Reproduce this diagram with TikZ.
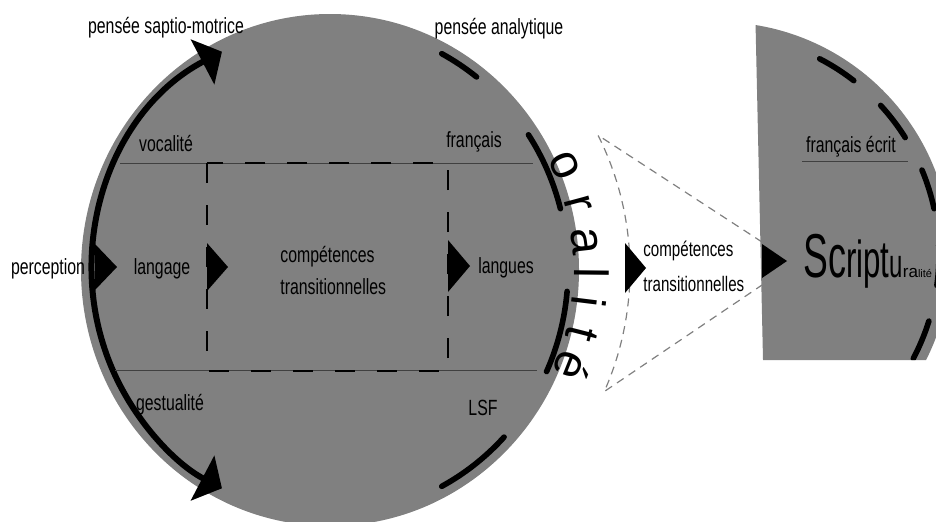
\documentclass[tikz,border=0pt]{standalone}
\usepackage{fontspec}
\setmainfont[FakeStretch=0.72]{Liberation Sans}
\newfontfamily\plainsans{Liberation Sans}
\newfontfamily\narrowsans[FakeStretch=0.6]{Liberation Sans}
\usetikzlibrary{arrows.meta,calc}
\tikzset{
  lbl/.style={inner sep=0pt, font=\fontsize{11}{16}\selectfont},
  rule/.style={black!75, line width=0.5pt},
  frame/.style={line width=1.1pt, dash pattern=on 10pt off 11pt},
  blackdash/.style={line width=2.8pt, line cap=round},
  fan/.style={gray, line width=0.6pt, dash pattern=on 4pt off 3pt},
  bigtip/.tip={Triangle[width=25pt,length=11pt]}
}

\begin{document}
\begin{tikzpicture}[x=0.5pt,y=-0.5pt]
\useasboundingbox (0,0) rectangle (936,521);
\coordinate (o) at (330,270);
\coordinate (s) at (718,255);
\fill[gray] (o) ellipse[x radius=249, y radius=256];
\begin{scope}
  \clip (755,0) -- (763,360) -- (936,360) -- (936,0) -- cycle;
  \fill[gray] (s) circle[radius=233];
  \foreach \a in {-62.6,-42.6,-22.6,-2.6,17.4}
    \draw[blackdash] ($(s)+(\a:221)$) arc[start angle=\a, delta angle=10.5, radius=221];
\end{scope}
\draw[line width=3pt, bigtip-bigtip] ($(o)+(243:238 and 245)$) arc[start angle=243, end angle=117, x radius=238, y radius=245];
\foreach \a/\b in {-62/-52,-33.5/-14.5,5/24.5,43/62}
  \draw[blackdash] ($(o)+(\a:238 and 245)$) arc[start angle=\a, end angle=\b, x radius=238, y radius=245];
\draw[rule] (120,163) -- (533,163);
\draw[rule] (115,370) -- (537,370);
\draw[rule] (802,161) -- (908,161);
\draw[frame] (207,163) rectangle (448,371);
\draw[fan] (762,242) -- ($(o)+(-26.7:300)$) arc[start angle=-26.7, end angle=23.9, radius=300] -- (762,285);
\foreach \x/\y/\h/\l in {95/267/23/22, 207/267/24/21, 448/266/26/22, 625/268/25/21, 762/261/17/25}
  \fill (\x,\y-\h) -- (\x+\l,\y) -- (\x,\y+\h) -- cycle;

\node[lbl, anchor=base] (spatial) at (166,33) {pensée saptio-motrice};
\node[lbl, anchor=base] (analytic) at (499,34) {pensée analytique};
\node[lbl, anchor=base] (voc) at (166,151) {vocalité};
\node[lbl, anchor=base] (fr) at (474,147) {français};
\node[lbl, anchor=base] (perc) at (48,274) {perception};
\node[lbl, anchor=base] (lang) at (162,274) {langage};
\node[lbl, anchor=west, align=left] (trans) at (280,270) {compétences\\transitionnelles};
\node[lbl, anchor=base] (langs) at (506,273) {langues};
\node[lbl, anchor=base] (gest) at (170,410) {gestualité};
\node[lbl, anchor=base] (lsf) at (483,415) {LSF};
\node[lbl, anchor=west, align=left, font=\fontsize{10.5}{17.5}\selectfont] (transout) at (643,266) {compétences\\transitionnelles};
\node[lbl, anchor=base] (frw) at (851,152) {français écrit};
\node[inner sep=0pt, anchor=base west, font=\narrowsans] (scrip) at (803,277)
  {\fontsize{31}{31}\selectfont S\fontsize{30}{30}\selectfont c\fontsize{26}{26}\selectfont ript\fontsize{20}{20}\selectfont u{\plainsans\fontsize{8.5}{8.5}\selectfont ra\fontsize{5.5}{5.5}\selectfont lité}};
\foreach \a/\c [count=\i] in {-24/o,-15/r,-6.5/a,0.6/l,7/i,14.3/t,21.7/é}
  \node[inner sep=0pt, anchor=base, font=\plainsans\fontsize{24}{24}\selectfont, rotate={-90-(\a)}] (ora\i) at ($(o)+(\a:244)$) {\c};
\end{tikzpicture}
\end{document}
